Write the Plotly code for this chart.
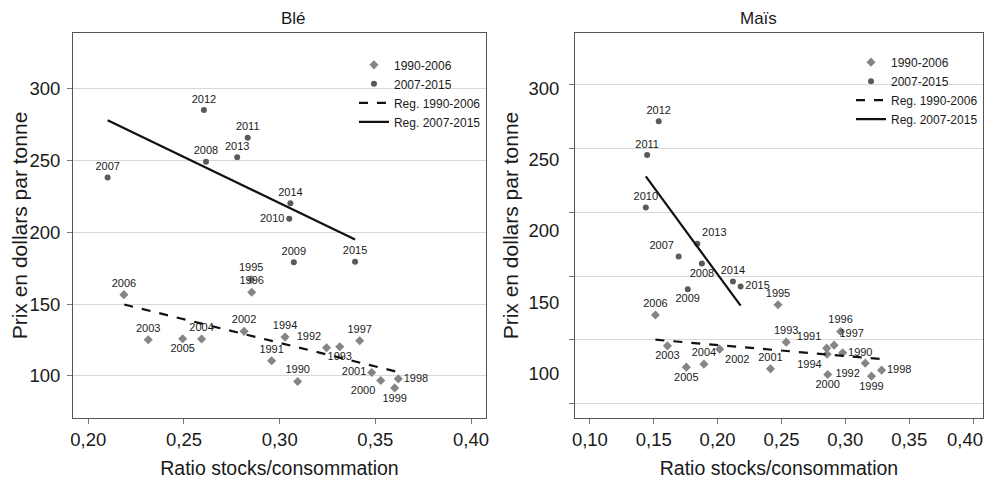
import plotly.graph_objects as go

# ---------------- Data: Blé (wheat) ----------------
ble_old_years = ["1990", "1991", "1992", "1993", "1994", "1995", "1996", "1997", "1998",
                 "1999", "2000", "2001", "2002", "2003", "2004", "2005", "2006"]
ble_old_x = [0.3094, 0.2958, 0.3245, 0.3314, 0.3028, 0.2851, 0.2854, 0.3418, 0.3620,
             0.3601, 0.3528, 0.3481, 0.2814, 0.2313, 0.2592, 0.2493, 0.2186]
ble_old_y = [96.0, 110.5, 119.6, 120.3, 127.0, 167.1, 158.3, 124.5, 97.9,
             91.6, 96.7, 102.3, 131.0, 125.2, 125.7, 125.9, 156.6]
ble_old_pos = ["top center", "top center", "top left", "bottom center", "top center",
               "top center", "top center", "top center", "middle right",
               "bottom center", "bottom left", "middle left", "top center", "top center",
               "top center", "bottom center", "top center"]

ble_new_years = ["2007", "2008", "2009", "2010", "2011", "2012", "2013", "2014", "2015"]
ble_new_x = [0.2101, 0.2615, 0.3074, 0.3050, 0.2833, 0.2604, 0.2778, 0.3056, 0.3394]
ble_new_y = [238.3, 249.2, 179.2, 209.5, 266.0, 285.3, 252.4, 220.3, 179.5]
ble_new_pos = ["top center", "top center", "top center", "middle left", "top center",
               "top center", "top center", "top center", "top center"]

ble_reg_old_x = [0.2188, 0.3620]
ble_reg_old_y = [149.7, 102.6]
ble_reg_new_x = [0.2101, 0.3394]
ble_reg_new_y = [278.1, 195.1]

# ---------------- Data: Maïs (maize) ----------------
mais_old_years = ["1990", "1991", "1992", "1993", "1994", "1995", "1996", "1997", "1998",
                  "1999", "2000", "2001", "2002", "2003", "2004", "2005", "2006"]
mais_old_x = [0.2979, 0.2854, 0.3156, 0.2537, 0.2857, 0.2473, 0.2963, 0.2912, 0.3284,
              0.3205, 0.2862, 0.2414, 0.2016, 0.1607, 0.1893, 0.1755, 0.1513]
mais_old_y = [114.7, 118.0, 107.5, 122.2, 113.8, 148.4, 129.7, 120.1, 102.6,
              98.4, 99.5, 103.5, 117.3, 119.6, 106.8, 104.7, 141.2]
mais_old_pos = ["middle right", "top left", "bottom left", "top center", "bottom left",
                "top center", "top center", "top right", "middle right",
                "bottom center", "bottom center", "top center", "bottom right",
                "bottom center", "top center", "bottom center", "top center"]

mais_new_years = ["2007", "2008", "2009", "2010", "2011", "2012", "2013", "2014", "2015"]
mais_new_x = [0.1695, 0.1877, 0.1766, 0.1438, 0.1448, 0.1539, 0.1841, 0.2120, 0.2180]
mais_new_y = [182.1, 177.2, 159.2, 216.5, 253.2, 276.8, 191.0, 164.6, 161.1]
mais_new_pos = ["top left", "bottom center", "bottom center", "top center", "top center",
                "top center", "top right", "top center", "middle right"]

mais_reg_old_x = [0.1513, 0.3284]
mais_reg_old_y = [123.9, 110.3]
mais_reg_new_x = [0.1438, 0.2180]
mais_reg_new_y = [238.2, 147.7]

# axis tick values / labels
ble_x_ticks = [0.20, 0.25, 0.30, 0.35, 0.40]
ble_x_labels = ["0,20", "0,25", "0,30", "0,35", "0,40"]
mais_x_ticks = [0.10, 0.15, 0.20, 0.25, 0.30, 0.35, 0.40]
mais_x_labels = ["0,10", "0,15", "0,20", "0,25", "0,30", "0,35", ""]
mais_x_last_tick = [0.40]
mais_x_last_label = ["0,40"]
y_label_ticks = [100, 150, 200, 250, 300]
mais_grid_ticks = [302.8, 257.9, 213.0, 168.1, 123.9, 79.0]

FONT = "Liberation Sans, Arial, sans-serif"
OLD_COL = "#858585"
NEW_COL = "#5a5a5a"
LAB_SIZE = 11
TXT = "#1a1a1a"

fig = go.Figure()


def add_panel(xa, ya, xline, yline, legend, ox, oy, opos, oyears, nx, ny, npos, nyears,
              rox, roy, rnx, rny):
    fig.add_trace(go.Scatter(
        x=ox, y=oy, mode="markers+text", text=oyears, textposition=opos,
        textfont=dict(size=LAB_SIZE, color=TXT, family=FONT),
        marker=dict(symbol="diamond", size=7, color=OLD_COL),
        name="1990-2006", xaxis=xa, yaxis=ya, legend=legend, cliponaxis=False))
    fig.add_trace(go.Scatter(
        x=nx, y=ny, mode="markers+text", text=nyears, textposition=npos,
        textfont=dict(size=LAB_SIZE, color=TXT, family=FONT),
        marker=dict(symbol="circle", size=6, color=NEW_COL),
        name="2007-2015", xaxis=xa, yaxis=ya, legend=legend, cliponaxis=False))
    fig.add_trace(go.Scatter(
        x=rox, y=roy, mode="lines", line=dict(color="#111", width=2.2, dash="dash"),
        name="Reg. 1990-2006", xaxis=xline, yaxis=yline, legend=legend))
    fig.add_trace(go.Scatter(
        x=rnx, y=rny, mode="lines", line=dict(color="#111", width=2.2),
        name="Reg. 2007-2015", xaxis=xline, yaxis=yline, legend=legend))


add_panel("x", "y", "x", "y", "legend", ble_old_x, ble_old_y, ble_old_pos, ble_old_years,
          ble_new_x, ble_new_y, ble_new_pos, ble_new_years,
          ble_reg_old_x, ble_reg_old_y, ble_reg_new_x, ble_reg_new_y)
add_panel("x2", "y2", "x3", "y3", "legend2", mais_old_x, mais_old_y, mais_old_pos,
          mais_old_years, mais_new_x, mais_new_y, mais_new_pos, mais_new_years,
          mais_reg_old_x, mais_reg_old_y, mais_reg_new_x, mais_reg_new_y)

axis_common = dict(showline=True, linecolor="#555", linewidth=1, mirror=True,
                   ticks="outside", ticklen=5, tickcolor="#777", automargin=False,
                   tickfont=dict(size=18.5, color=TXT, family=FONT), zeroline=False)
xtitle = dict(text="Ratio stocks/consommation", font=dict(size=19.5, color=TXT))
ytitle = dict(text="Prix en dollars par tonne", font=dict(size=21, color=TXT))

legend_common = dict(bgcolor="rgba(0,0,0,0)", borderwidth=0,
                     font=dict(size=12, color=TXT, family=FONT),
                     xanchor="right", yanchor="top", tracegroupgap=0,
                     itemwidth=30, traceorder="normal")

MAIS_XR = [0.0883, 0.4078]
MAIS_YR = [69.1, 338.6]

fig.update_layout(
    width=978, height=471,
    margin=dict(l=65, r=3, t=25, b=61),
    paper_bgcolor="white", plot_bgcolor="white",
    font=dict(family=FONT, color=TXT),
    xaxis=dict(domain=[0, 0.4538], range=[0.192, 0.4078], tickvals=ble_x_ticks,
               ticktext=ble_x_labels, showgrid=False, anchor="y", title=xtitle,
               **axis_common),
    yaxis=dict(domain=[0, 1], range=[70.6, 339], tickvals=y_label_ticks,
               showgrid=True, gridcolor="#d8d8d8", gridwidth=1, anchor="x",
               ticklabelstandoff=3, title=ytitle, **axis_common),
    xaxis2=dict(domain=[0.5516, 1], range=MAIS_XR, tickvals=mais_x_ticks,
                ticktext=mais_x_labels, showgrid=False, anchor="y2", title=xtitle,
                **axis_common),
    yaxis2=dict(domain=[0, 1], range=MAIS_YR, tickvals=mais_grid_ticks,
                ticktext=["\u2007\u2007\u00a0"] * len(mais_grid_ticks),
                showgrid=True, gridcolor="#d8d8d8", gridwidth=1, anchor="x2",
                title=ytitle, **axis_common),
    xaxis3=dict(overlaying="x2", anchor="y2", side="bottom", range=MAIS_XR,
                tickvals=mais_x_last_tick, ticktext=mais_x_last_label,
                showgrid=False, zeroline=False, showline=False, automargin=False,
                ticks="outside", ticklen=5, tickcolor="rgba(0,0,0,0)",
                ticklabelshift=-8,
                tickfont=dict(size=18.5, color=TXT, family=FONT)),
    yaxis3=dict(overlaying="y2", anchor="x2", side="left", range=MAIS_YR,
                tickvals=y_label_ticks, showgrid=False, zeroline=False, showline=False,
                ticks="outside", ticklen=5, tickcolor="rgba(0,0,0,0)", automargin=False,
                ticklabelstandoff=6,
                tickfont=dict(size=18.5, color=TXT, family=FONT)),
    legend=dict(x=0.4538, y=0.955, xref="paper", yref="paper", **legend_common),
    legend2=dict(x=1.0, y=0.962, xref="paper", yref="paper", **legend_common),
    annotations=[
        dict(text="Blé", x=0.2269, y=1, xref="paper", yref="paper", yanchor="bottom",
             yshift=3, showarrow=False, font=dict(size=17, color=TXT, family=FONT)),
        dict(text="Maïs", x=0.7758, y=1, xref="paper", yref="paper", yanchor="bottom",
             yshift=3, showarrow=False, font=dict(size=17, color=TXT, family=FONT)),
    ],
)

fig.write_html("out.html")
